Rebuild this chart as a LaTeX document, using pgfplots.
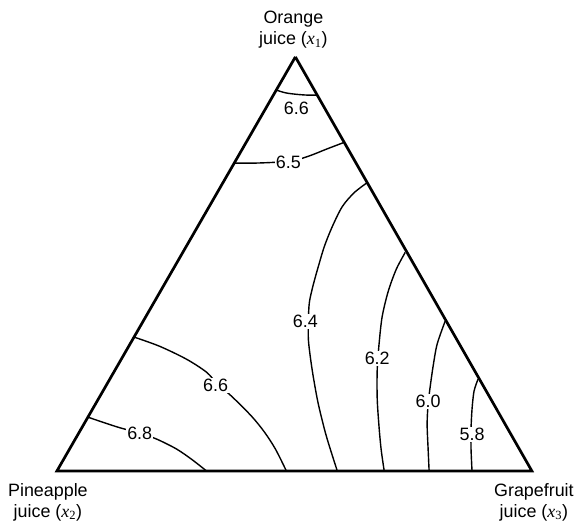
\documentclass[border=0pt]{standalone}
\usepackage{pgfplots}
\pgfplotsset{compat=1.18}
\usepackage{fontspec}
\setmainfont{Liberation Sans}
\newfontfamily\varfont{Liberation Serif}

\newcommand{\xvar}[1]{{\varfont\itshape x}\textsubscript{\varfont #1}}

\tikzset{
  lbl/.style={fill=white, inner sep=1.2bp, font=\fontsize{18}{20}\selectfont},
  vert/.style={align=center, font=\fontsize{18}{21}\selectfont},
}
\pgfplotsset{ctr/.style={black, solid, line width=1.4bp, smooth, mark=none}}

\begin{document}
\begin{tikzpicture}
\begin{axis}[
  width=577bp, height=523bp, scale only axis,
  xmin=0, xmax=577, ymin=0, ymax=523, y dir=reverse,
  hide axis, clip=false,
]
\path (axis cs:0,0) rectangle (axis cs:577,523);

% simplex boundary
\addplot[black, solid, mark=none, line width=2.7bp, sharp plot, line join=miter] coordinates
  {(296,57) (57,472) (533,472) (296,57)};

% contours of the fitted response
\addplot[ctr] coordinates {(276,90) (286,93) (297,94.5) (308,95.3) (318,95.3)};          % 6.6 (top)
\addplot[ctr] coordinates {(235,163.5) (252,163.5) (268,163) (285,162) (298,160) (312,155.5) (327,149.5) (344,143)}; % 6.5
\addplot[ctr] coordinates {(368,183) (355,193) (343,207) (333,227) (325,247) (319,267) (314,285) (310,303) (309,322) (309,340) (311,358) (314,378) (319,405) (327,437) (338,472)}; % 6.4
\addplot[ctr] coordinates {(406,253) (397,270) (389,292) (383,317) (380,343) (378,370) (378,400) (380,430) (382,451) (385,472)}; % 6.2
\addplot[ctr] coordinates {(446,322) (438,345) (434,367) (431,388) (429,405) (428,425) (429,450) (430,472)}; % 6.0
\addplot[ctr] coordinates {(479,380) (475,392) (473,410) (472,430) (472,450) (473,472)}; % 5.8
\addplot[ctr] coordinates {(135,338) (160,347) (187,360) (207,373) (218,385) (232,397) (252,417) (265,433) (276,450) (287,472)}; % 6.6 (lower)
\addplot[ctr] coordinates {(88,418) (118,428) (140,434) (157,440) (177,450) (193,461) (207,472)}; % 6.8

% contour labels
\node[lbl] at (axis cs:297,109) {6.6};
\node[lbl] at (axis cs:289,163) {6.5};
\node[lbl] at (axis cs:306,322) {6.4};
\node[lbl] at (axis cs:378,359) {6.2};
\node[lbl] at (axis cs:429,402) {6.0};
\node[lbl] at (axis cs:473,435) {5.8};
\node[lbl] at (axis cs:216,386) {6.6};
\node[lbl] at (axis cs:140,434) {6.8};

% vertex names
\node[vert] at (axis cs:294,30) {Orange\\juice (\xvar{1})};
\node[vert] at (axis cs:48,503) {Pineapple\\juice (\xvar{2})};
\node[vert] at (axis cs:535,503) {Grapefruit\\juice (\xvar{3})};
\end{axis}
\end{tikzpicture}
\end{document}
